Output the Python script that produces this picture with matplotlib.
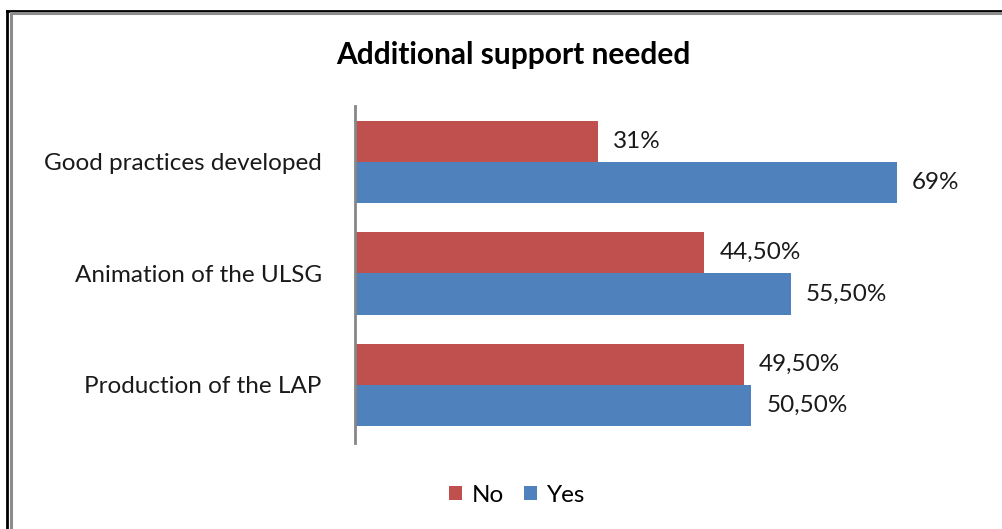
import matplotlib.pyplot as plt
from matplotlib.lines import Line2D
import numpy as np

# Data
categories = ['Good practices developed', 'Animation of the ULSG', 'Production of the LAP']
no_values = [31, 44.5, 49.5]
yes_values = [69, 55.5, 50.5]
series_names = ['No', 'Yes']

red = '#C0504D'
blue = '#4F81BD'

plt.rcParams['font.family'] = ['Lato', 'DejaVu Sans']

fig = plt.figure(figsize=(10.02, 5.29), dpi=100)
ax = fig.add_axes([355 / 1002, 1 - 443 / 529, 628 / 1002, 337 / 529])

y = np.arange(len(categories))[::-1]
h = 0.37
bars_no = ax.barh(y + h / 2, no_values, height=h, color=red, label=series_names[0])
bars_yes = ax.barh(y - h / 2, yes_values, height=h, color=blue, label=series_names[1])


def fmt(v):
    if float(v).is_integer():
        return f'{int(v)}%'
    return f'{v:.2f}%'.replace('.', ',')


for bars, vals in [(bars_no, no_values), (bars_yes, yes_values)]:
    for b, v in zip(bars, vals):
        ax.text(b.get_width() + 1.9, b.get_y() + b.get_height() / 2, fmt(v),
                va='center', ha='left', fontsize=17.5, color='#1a1a1a')

ax.set_xlim(0, 80)
ax.set_ylim(-0.52, 2.5)
ax.set_yticks(y)
ax.set_yticklabels(categories, fontsize=17.5, color='#1a1a1a')
ax.tick_params(axis='y', length=0, pad=24)
ax.set_xticks([])
for s in ['top', 'right', 'bottom']:
    ax.spines[s].set_visible(False)
ax.spines['left'].set_color('#868686')
ax.spines['left'].set_linewidth(2)

fig.text(513 / 1002, 1 - 55 / 529, 'Additional support needed', ha='center', va='center',
         fontsize=21.5, fontweight='bold', color='black')

fig.legend(handles=[bars_no, bars_yes], labels=series_names, loc='center',
           bbox_to_anchor=(517 / 1002, 1 - 495 / 529), ncol=2, frameon=False,
           fontsize=17.5, handlelength=0.55, handleheight=0.55, handletextpad=0.4,
           columnspacing=0.8)

# outer frame (black) and inner frame (gray), only top/left visible in the crop
fig.add_artist(Line2D([7 / 1002, 7 / 1002], [0, 1 - 10.5 / 529], transform=fig.transFigure,
                      color='black', linewidth=2))
fig.add_artist(Line2D([7 / 1002, 1], [1 - 10.5 / 529, 1 - 10.5 / 529], transform=fig.transFigure,
                      color='black', linewidth=2))
fig.add_artist(Line2D([11 / 1002, 11 / 1002], [0, 1 - 13 / 529], transform=fig.transFigure,
                      color='#8C8C8C', linewidth=2.2))
fig.add_artist(Line2D([11 / 1002, 1], [1 - 13 / 529, 1 - 13 / 529], transform=fig.transFigure,
                      color='#8C8C8C', linewidth=2.2))

fig.savefig('out.png', dpi=100, facecolor='white')
